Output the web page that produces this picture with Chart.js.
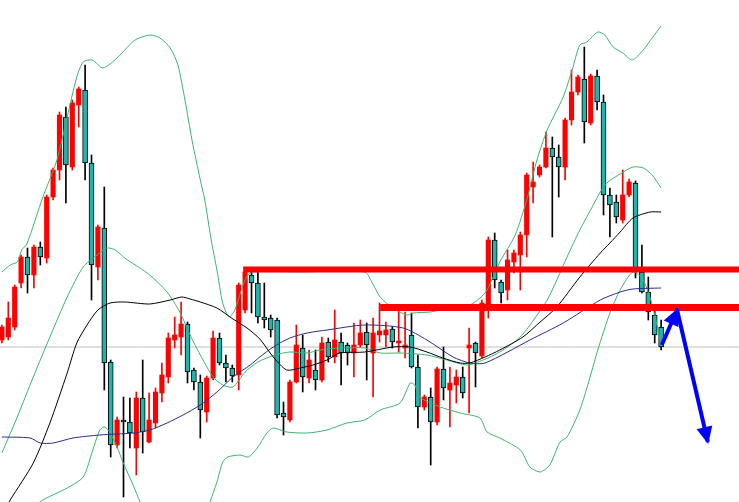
<!DOCTYPE html>
<html>
<head>
<meta charset="utf-8">
<script src="https://cdn.jsdelivr.net/npm/chart.js@4.4.1/dist/chart.umd.min.js"></script>
<style>
  html, body { margin: 0; padding: 0; background: #fff; }
  #wrap { width: 739px; height: 502px; }
</style>
</head>
<body>
<div id="wrap"><canvas id="chart" width="739" height="502"></canvas></div>
<script>
// candles, one per bar index 0..103
const open = [160,163,173,217,243,225,253,242,303,330,383,333,395,410,337,233,272,138,55,80,
  78,52,102,58,77,107,123,160,163,176,130,118,88,122,162,137,132,125,190,225,
  217,183,182,180,87,80,118,152,122,130,120,158,143,158,155,147,155,168,147,165,
  165,171,157,152,165,133,93,103,78,131,110,115,123,152,157,144,193,260,218,210,
  238,245,265,313,325,333,352,343,333,380,408,421,377,424,398,305,298,280,305,317,
  228,208,185,173];
const close = [173,182,213,243,225,253,243,303,330,385,335,397,411,337,235,273,137,55,80,78,
  67,102,68,80,108,125,162,165,176,128,118,90,122,162,137,132,124,215,228,217,
  183,180,170,85,83,118,155,123,140,120,157,143,160,147,147,155,167,155,167,169,
  170,158,159,155,133,93,103,78,131,112,117,123,107,155,147,197,260,220,207,240,
  247,265,325,318,333,352,343,333,380,408,423,378,424,398,305,295,283,305,318,228,
  208,188,165,153];
const high = [175,198,215,245,252,255,258,305,332,388,393,400,413,435,345,275,313,140,83,103,
  102,108,140,107,112,137,167,183,198,178,132,125,124,169,167,145,135,217,231,230,
  228,217,185,182,98,120,175,165,150,150,163,162,190,167,157,177,180,177,182,197,
  178,173,190,188,187,145,105,112,133,153,133,130,133,172,158,200,263,267,220,250,
  250,268,327,338,335,368,363,355,382,430,425,453,426,430,405,312,305,330,321,319,
  255,223,190,180];
const low = [157,160,170,212,207,212,235,237,300,320,297,330,373,320,200,220,110,43,52,3,
  52,25,47,57,72,98,117,152,145,117,110,62,78,120,135,118,118,110,187,187,
  177,172,163,82,65,78,117,108,117,110,118,138,137,115,135,123,153,120,103,158,
  153,152,148,142,132,72,90,35,75,100,73,97,102,87,113,142,182,212,197,200,
  227,210,243,297,323,332,263,303,320,375,405,357,375,390,285,263,277,277,303,222,
  207,180,157,150];

// bollinger bands (bar index, level)
const upperIdx = [0,1.3,2.4,3.1,3.9,6.4,8.6,10.2,11.7,12.7,14.1,15.8,18,19.2,20.8,23.1,24.7,26.3,27.5,28.6,
  29.7,31,31.7,32.7,33.6,34.5,35.5,36.4,37.4,38.3,39.2,46.6,56.7,57.8,59.1,61.1,63.3,64.2,66.9,70,
  73.1,74.7,75.8,77.8,80.2,82,83.6,85.2,87.7,89.1,90.3,91.4,93.1,94.2,95.5,97,98.5,100.2,101.6,103];
const upperVal = [228,235,238,250,256,303,340,383,423,438,440,432,442,450,460,465,462,452,435,400,
  360,320,300,260,230,197,183,190,210,224,228,228,228,218,203,192,185,187,188,192,
  195,202,210,238,265,300,340,370,403,430,455,458,468,465,453,447,440,450,462,474];
const midIdx = [0,2.4,4.9,7.5,10.2,12.7,14.9,16.4,17.7,19.2,23.1,25.8,27.8,29.4,31,33,34.5,36.1,38,40,
  42.7,45,47.7,49.7,52.8,56.7,59.1,62.2,66.4,69.5,72.7,75.2,77.8,81,83.3,85.2,86.7,88.3,90.3,92.4,
  93.5,94.7,96.6,98.6,100.2,101.6,103];
const midVal = [47,83,123,163,203,233,245,252,250,242,225,208,188,165,145,123,115,113,128,138,
  145,148,147,150,152,152,147,147,145,140,135,140,148,163,182,200,220,243,270,295,
  308,318,326,333,332,325,312];
const lowIdx = [0,3,6.4,8.6,10.2,12.7,14.2,15.3,16.1,16.9,18,18.9,20.5,21.6,23.9,28.6,31.7,32.5,33.6,34.5,
  35.3,37.2,38.5,39.9,41.4,42.4,44.5,47.7,50.8,53.9,56.7,59.1,62.2,63.8,64.5,65.3,68.5,71.6,74.7,75.8,
  77.8,81,82.5,84.1,85.6,87.2,88.3,90.3,91.9,93.1,95,96.6,98.6,100.2,101.7,103];
const lowVal = [-35,-15,0,7,12,23,50,70,73,67,53,38,15,-2,-30,-35,-15,-2,18,38,
  43,45,43,52,67,72,68,67,70,77,80,90,97,117,115,103,93,87,82,68,
  62,50,33,28,35,58,63,90,123,150,187,210,228,220,193,155];

// moving averages
const blackIdx = [0,1.3,4.9,7.5,10.2,11.7,13.3,15,16.9,19.2,23.1,26.3,28.1,29.4,31,33.6,36.1,38.3,40.3,42.4,
  44.5,46.6,48.6,50.8,52.8,56.7,61.1,63.8,66.4,68.9,71.6,73.1,75.5,77.8,81.4,84.1,86.7,90.3,93.5,95,
  96.6,98.6,101.3,103];
const blackVal = [-15,0,37,77,127,157,175,190,197,198,196,200,203,201,198,192,181,172,161,143,
  130,132,135,140,147,148,153,153,148,142,137,137,143,150,163,178,193,223,247,257,
  268,282,288,288];
const navyIdx = [0,4.4,6,8,11.1,15.3,20.5,23.1,25.8,28.3,31,33.6,36.1,38.8,40.3,42.4,45,47.7,50.8,56.7,
  62.7,66.4,70.5,73.1,75.5,82.5,87.7,93.5,96.6,98.6,103];
const navyVal = [63,62,57,57,62,65,67,70,77,85,95,108,123,135,143,153,162,167,170,175,
  172,160,143,137,137,160,177,200,208,211,212];

// drawn levels and the arrow
const levelStart = [37.7, 59.1];
const levelVal = [230.5, 192.5];
const refLevel = 153;
const arrowIdx = [103.1, 105.5, 110.3];
const arrowVal = [155, 190, 58];

const X_MIN = -0.297, X_MAX = 115.17;
const RED = '#ff0000', TEAL = '#1fb5ad', BAND = '#3cb371';

const bars = open.map((_, i) => i);
const isUp = bars.map(i => close[i] >= open[i]);
const pts = (xs, ys) => xs.map((x, i) => ({ x: x, y: ys[i] }));

const lineDs = (data, color, order, width) => ({
  type: 'line', data: data, borderColor: color, borderWidth: width || 1,
  pointRadius: 0, tension: 0.25, fill: false, order: order
});

const arrowHeads = {
  id: 'arrowHeads',
  afterDatasetsDraw(chart) {
    const meta = chart.getDatasetMeta(chart.data.datasets.length - 1);
    const p = meta.data;
    const ctx = chart.ctx;
    ctx.save();
    ctx.fillStyle = '#0000ff';
    for (let i = 1; i < p.length; i++) {
      const a = p[i - 1], b = p[i];
      const ang = Math.atan2(b.y - a.y, b.x - a.x);
      const len = 15, half = 8;
      const bx = b.x - len * Math.cos(ang), by = b.y - len * Math.sin(ang);
      ctx.beginPath();
      ctx.moveTo(b.x + 2 * Math.cos(ang), b.y + 2 * Math.sin(ang));
      ctx.lineTo(bx + half * Math.sin(ang), by - half * Math.cos(ang));
      ctx.lineTo(bx - half * Math.sin(ang), by + half * Math.cos(ang));
      ctx.closePath();
      ctx.fill();
    }
    ctx.restore();
  }
};

new Chart(document.getElementById('chart'), {
  type: 'bar',
  data: {
    datasets: [
      lineDs([{ x: X_MIN, y: refLevel }, { x: X_MAX, y: refLevel }], '#c0c0c0', 8),
      {
        data: bars.map(i => ({ x: i, y: [low[i], high[i]] })),
        backgroundColor: bars.map(i => isUp[i] ? RED : '#000000'),
        barThickness: 1, grouped: false, order: 7
      },
      {
        data: bars.filter(i => isUp[i]).map(i => ({ x: i, y: [open[i], close[i]] })),
        backgroundColor: RED, barThickness: 4.5, minBarLength: 1,
        grouped: false, order: 6
      },
      {
        data: bars.filter(i => !isUp[i]).map(i => ({ x: i, y: [open[i], close[i]] })),
        backgroundColor: TEAL, borderColor: '#000000', borderWidth: 1,
        borderSkipped: false, barThickness: 5, minBarLength: 2,
        grouped: false, order: 5
      },
      lineDs(pts(upperIdx, upperVal), BAND, 4),
      lineDs(pts(midIdx, midVal), BAND, 4),
      lineDs(pts(lowIdx, lowVal), BAND, 4),
      lineDs(pts(blackIdx, blackVal), '#000000', 3),
      lineDs(pts(navyIdx, navyVal), '#2b2b8c', 3),
      lineDs([{ x: levelStart[0], y: levelVal[0] }, { x: X_MAX, y: levelVal[0] }], RED, 2, 6),
      lineDs([{ x: levelStart[1], y: levelVal[1] }, { x: X_MAX, y: levelVal[1] }], RED, 2, 7),
      Object.assign(lineDs(pts(arrowIdx, arrowVal), '#0000ff', 1, 4), { tension: 0, borderJoinStyle: 'round' })
    ]
  },
  options: {
    responsive: false,
    animation: false,
    events: [],
    layout: { padding: 0 },
    scales: {
      x: { type: 'linear', min: X_MIN, max: X_MAX, offset: false, display: false },
      y: { min: -2, max: 500, display: false }
    },
    plugins: {
      legend: { display: false },
      tooltip: { enabled: false }
    }
  },
  plugins: [arrowHeads]
});
</script>
</body>
</html>
